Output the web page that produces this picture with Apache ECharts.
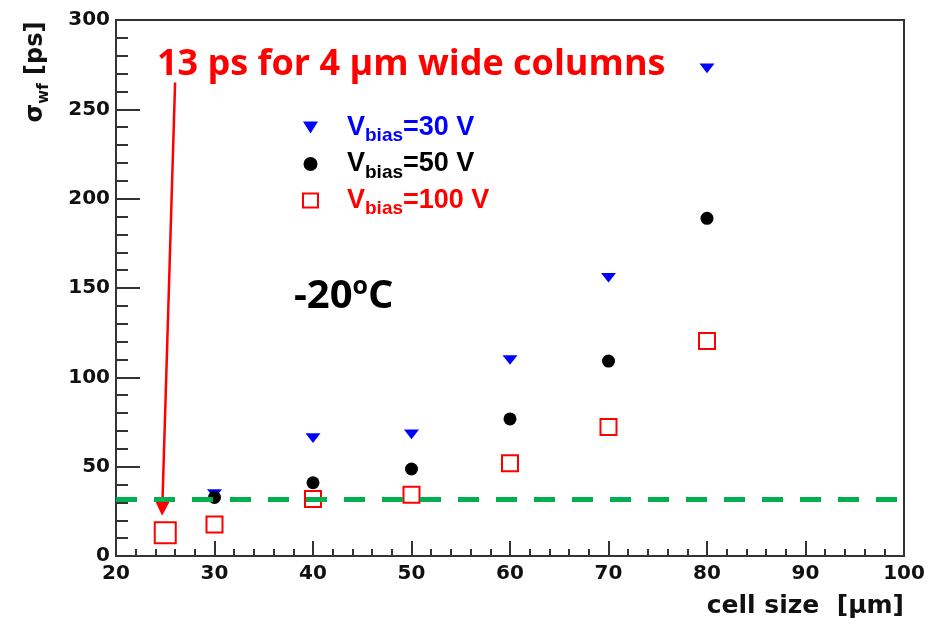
<!DOCTYPE html>
<html>
<head>
<meta charset="utf-8">
<script src="https://cdn.jsdelivr.net/npm/echarts@6/dist/echarts.min.js"></script>
<style>
  html, body { margin: 0; padding: 0; background: #fff; }
  #chart { width: 928px; height: 627px; }
</style>
</head>
<body>
<div id="chart"></div>
<script>
// values
const cellSize = [30, 40, 50, 60, 70, 80];
const bias30 = [34.7, 66, 68.1, 109.7, 155.7, 272.9];
const bias50 = [32.8, 41, 48.7, 76.7, 109.1, 189];
const bias100 = [17.7, 31.9, 34.3, 51.9, 72.2, 120.3];
const columnPoint = [25, 13];
const threshold = 32;
const arrowFrom = [26, 265];
const arrowTo = [24.7, 27];
const xTicks = [20, 30, 40, 50, 60, 70, 80, 90, 100];
const yTicks = [0, 50, 100, 150, 200, 250, 300];

const legendNames = ['Vbias=30 V', 'Vbias=50 V', 'Vbias=100 V'];
const legendValues = ['30', '50', '100'];
const legendColors = ['#0000ff', '#000000', '#ff0000'];

const toPairs = (xs, ys) => xs.map((x, i) => [x, ys[i]]);

const axisFont = { fontFamily: 'DejaVu Sans', fontWeight: 'bold', fontSize: 20, color: '#111' };
const tri = 'path://M0,0 L10,0 L5,8 Z';

// rich text for legend labels, one style set per colour
const legendRich = {};
legendColors.forEach((c, i) => {
  legendRich['p' + i] = { fontFamily: 'Liberation Sans', fontWeight: 'bold', fontSize: 27, color: c, lineHeight: 36, verticalAlign: 'middle', padding: [0, 0, 0, 24] };
  legendRich['v' + i] = { fontFamily: 'Liberation Sans', fontWeight: 'bold', fontSize: 27, color: c, lineHeight: 36, verticalAlign: 'middle' };
  legendRich['s' + i] = { fontFamily: 'Liberation Sans', fontWeight: 'bold', fontSize: 19, color: c, lineHeight: 16, verticalAlign: 'bottom' };
});

const chart = echarts.init(document.getElementById('chart'), null, { renderer: 'canvas' });

const option = {
  animation: false,
  backgroundColor: '#fff',
  grid: {
    left: 116, right: 24, top: 20, bottom: 71,
    show: true, borderColor: '#333', borderWidth: 2,
    outerBoundsMode: 'none'
  },
  legend: {
    orient: 'vertical',
    left: 302, top: 114,
    padding: 0,
    itemGap: 5,
    itemWidth: 15, itemHeight: 14,
    selectedMode: false,
    data: legendNames,
    formatter: name => {
      const i = legendNames.indexOf(name);
      return `{p${i}|V}{s${i}|bias}{v${i}|=${legendValues[i]} V}`;
    },
    textStyle: { rich: legendRich }
  },
  xAxis: {
    type: 'value',
    min: xTicks[0], max: xTicks[xTicks.length - 1], interval: 10,
    splitLine: { show: false },
    axisLine: { show: true, onZero: false, lineStyle: { color: '#333', width: 2 } },
    axisTick: { show: true, inside: true, length: 15, lineStyle: { color: '#333', width: 2 } },
    minorTick: { show: true, splitNumber: 5, length: 7, lineStyle: { color: '#333', width: 2 } },
    axisLabel: Object.assign({ margin: 8 }, axisFont)
  },
  yAxis: {
    type: 'value',
    min: yTicks[0], max: yTicks[yTicks.length - 1], interval: 50,
    splitLine: { show: false },
    axisLine: { show: true, onZero: false, lineStyle: { color: '#333', width: 2 } },
    axisTick: { show: true, inside: true, length: 24, lineStyle: { color: '#333', width: 2 } },
    minorTick: { show: true, splitNumber: 5, length: 12, lineStyle: { color: '#333', width: 2 } },
    axisLabel: Object.assign({ margin: 6 }, axisFont)
  },
  series: [
    {
      name: legendNames[0], type: 'scatter', z: 2,
      symbol: tri, symbolSize: [15, 12], symbolKeepAspect: true,
      itemStyle: { color: legendColors[0], opacity: 1 },
      data: toPairs(cellSize, bias30)
    },
    {
      name: legendNames[1], type: 'scatter', z: 3,
      symbol: 'circle', symbolSize: 13,
      itemStyle: { color: legendColors[1], opacity: 1 },
      data: toPairs(cellSize, bias50)
    },
    {
      name: legendNames[2], type: 'scatter', z: 4,
      symbol: 'rect', symbolSize: 16,
      itemStyle: { color: 'rgba(255,255,255,0)', borderColor: legendColors[2], borderWidth: 2, opacity: 1 },
      data: toPairs(cellSize, bias100)
    },
    {
      name: 'columns', type: 'scatter', z: 4,
      symbol: 'rect', symbolSize: 21,
      itemStyle: { color: 'rgba(255,255,255,0)', borderColor: '#ff0000', borderWidth: 2, opacity: 1 },
      data: [columnPoint],
      markLine: {
        silent: true,
        symbol: ['none', 'triangle'],
        symbolSize: 16,
        label: { show: false },
        itemStyle: { color: '#ff0000' },
        lineStyle: { color: '#ff0000', width: 2.5, type: 'solid', opacity: 1 },
        data: [[{ coord: arrowFrom }, { coord: arrowTo }]]
      }
    },
    {
      name: 'threshold', type: 'scatter', z: 5,
      data: [],
      markLine: {
        silent: true,
        symbol: ['none', 'none'],
        label: { show: false },
        lineStyle: { color: '#00b050', width: 5, type: [21, 17], opacity: 1 },
        data: [{ yAxis: threshold }]
      }
    }
  ],
  graphic: [
    {
      type: 'text', x: 36, y: 72, rotation: Math.PI / 2,
      style: {
        text: '{a|σ}{b|wf}{a| [ps]}',
        align: 'center', verticalAlign: 'middle',
        rich: {
          a: { fontFamily: 'DejaVu Sans', fontWeight: 'bold', fontSize: 24, fill: '#111', lineHeight: 32, verticalAlign: 'middle' },
          b: { fontFamily: 'DejaVu Sans', fontWeight: 'bold', fontSize: 15, fill: '#111', lineHeight: 15, verticalAlign: 'bottom' }
        }
      }
    },
    {
      type: 'text', x: 904, y: 606,
      style: {
        text: 'cell size  [μm]',
        align: 'right', verticalAlign: 'middle',
        font: 'bold 25px "DejaVu Sans"', fill: '#111'
      }
    },
    {
      type: 'text', x: 157, y: 65,
      style: {
        text: '13 ps for 4 μm wide columns',
        align: 'left', verticalAlign: 'middle',
        font: 'bold 36px "Open Sans"', fill: '#ff0000'
      }
    },
    {
      type: 'text', x: 294, y: 297,
      style: {
        text: '{m|-20}{o|o}{m|C}',
        align: 'left', verticalAlign: 'middle',
        rich: {
          m: { fontFamily: 'Open Sans', fontWeight: 'bold', fontSize: 40, fill: '#000', lineHeight: 46, verticalAlign: 'middle' },
          o: { fontFamily: 'Open Sans', fontWeight: 'bold', fontSize: 25, fill: '#000', lineHeight: 32, verticalAlign: 'top' }
        }
      }
    }
  ]
};

chart.setOption(option);
</script>
</body>
</html>
